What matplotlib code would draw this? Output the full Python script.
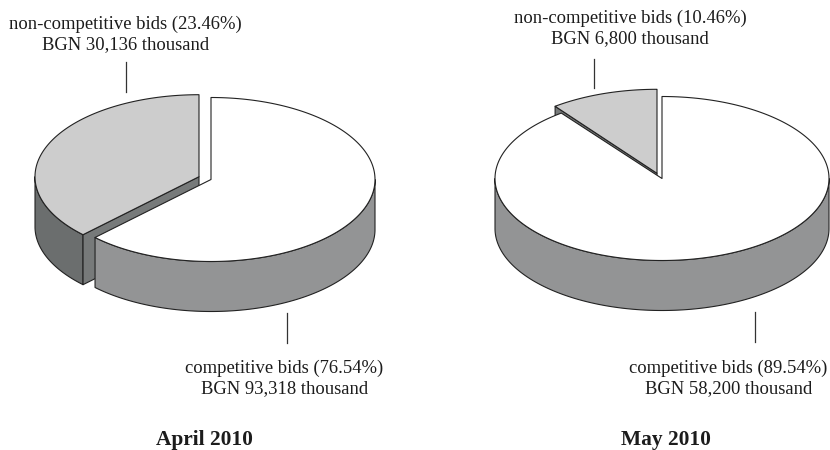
import numpy as np
import matplotlib
matplotlib.use("Agg")
import matplotlib.pyplot as plt
from matplotlib.patches import Polygon

plt.rcParams['font.family'] = ['Liberation Serif', 'DejaVu Serif']

# values as printed
months = ["April 2010", "May 2010"]
noncomp_pct = [23.46, 10.46]
comp_pct = [76.54, 89.54]
noncomp_bgn = ["30,136", "6,800"]
comp_bgn = ["93,318", "58,200"]
# share of the circle the small wedge actually occupies in the picture
drawn_noncomp_share = [37.5, 10.3]

# layout (pixels)
centres = [(211, 179.5), (662, 178.5)]
wedge_centres = [(199, 176.7), (657, 173.3)]
radii = [(164, 82), (167, 82)]
wedge_radii = [(164, 82), (169, 84)]
depth = 50
leaders = [((126, 62, 92), (287, 313, 343)), ((594, 59, 88), (755, 312, 342))]
label_x = [(125.5, 284.5), (630, 728.5)]
label_base = [((29, 49), (373.3, 393.3)), ((23.3, 43.3), (372.7, 392.7))]
title_pos = [(204, 445), (666, 444.8)]

TOP_GREY = "#cdcdcd"
WALL_DARK = "#6b6e6e"
FACE_DARK = "#777a7a"
WALL_MID = "#939495"
EDGE = "#222222"
TEXT = "#1c1c1c"
LW = 0.8
FS = 13.4

fig = plt.figure(figsize=(8.3, 4.5), dpi=100)
ax = fig.add_axes([0, 0, 1, 1])
ax.set_xlim(0, 830)
ax.set_ylim(450, 0)
ax.axis("off")


def arc(c, r, a0, a1, dz=0):
    # angles clockwise from 12 o'clock, degrees
    t = np.radians(np.linspace(a0, a1, 240))
    return np.column_stack([c[0] + r[0] * np.sin(t), c[1] - r[1] * np.cos(t) + dz])


def poly(pts, fc, z):
    ax.add_patch(Polygon(pts, closed=True, fc=fc, ec=EDGE, lw=LW, joinstyle="round", zorder=z))


def wall(c, r, a0, a1, fc, z):
    # outer wall: only the part facing the viewer (90..270 deg)
    lo, hi = max(a0, 90), min(a1, 270)
    if hi <= lo:
        return
    top = arc(c, r, lo, hi)
    bot = arc(c, r, lo, hi, depth)
    poly(np.vstack([top, bot[::-1]]), fc, z)


def label(x, y, s, **kw):
    ax.text(x, y, s, ha="center", va="baseline", color=TEXT, **kw)


for i in range(2):
    c = centres[i]
    r = radii[i]
    split = 360 - 360 * drawn_noncomp_share[i] / 100
    cs = wedge_centres[i]
    rs = wedge_radii[i]

    # small wedge: split..360
    wall(cs, rs, split, 360, WALL_DARK, 1)
    e = arc(cs, rs, split, split)[0]
    poly([cs, e, (e[0], e[1] + depth), (cs[0], cs[1] + depth)], FACE_DARK, 2)
    poly(np.vstack([[cs], arc(cs, rs, split, 360)]), TOP_GREY, 3)

    # large wedge: 0..split
    wall(c, r, 0, split, WALL_MID, 4)
    poly(np.vstack([[c], arc(c, r, 0, split)]), "white", 5)

    # leader lines
    for (x, y0, y1) in leaders[i]:
        ax.plot([x, x], [y0, y1], color="#333333", lw=0.9, zorder=6)

    # labels
    (x1, x2) = label_x[i]
    (b1, b2), (b3, b4) = label_base[i]
    label(x1, b1, f"non-competitive bids ({noncomp_pct[i]:.2f}%)", fontsize=FS)
    label(x1, b2, f"BGN {noncomp_bgn[i]} thousand", fontsize=FS)
    label(x2, b3, f"competitive bids ({comp_pct[i]:.2f}%)", fontsize=FS)
    label(x2, b4, f"BGN {comp_bgn[i]} thousand", fontsize=FS)
    label(*title_pos[i], months[i], fontsize=15.4, fontweight="bold")

fig.savefig("out.png", dpi=100, facecolor="white")
